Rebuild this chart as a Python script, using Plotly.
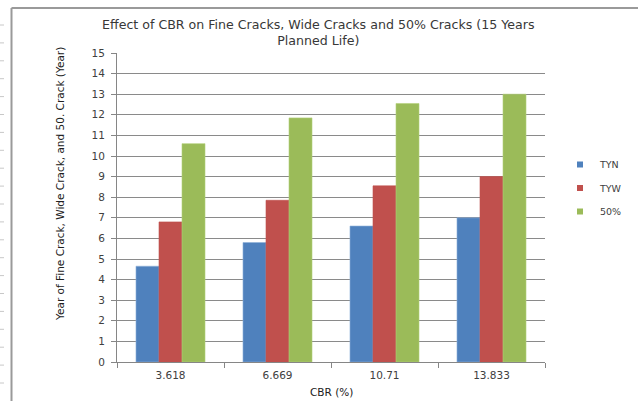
import plotly.graph_objects as go

categories = ["3.618", "6.669", "10.71", "13.833"]
tyn = [4.65, 5.8, 6.6, 7.0]
tyw = [6.8, 7.85, 8.55, 9.0]
p50 = [10.6, 11.85, 12.55, 13.0]
series_names = ["TYN", "TYW", "50%"]
colors = ["#4F81BD", "#C0504D", "#9BBB59"]
edge_colors = ["#8EB0DA", "#C0504D", "#B4D07A"]
title_text = "Effect of CBR on Fine Cracks, Wide Cracks and 50% Cracks (15 Years<br>Planned Life)"
ytitle = "Year of Fine Crack, Wide Crack, and 50. Crack (Year)"
xtitle = "CBR (%)"

FONT = "DejaVu Sans"

fig = go.Figure()
for name, vals, c, ec in zip(series_names, [tyn, tyw, p50], colors, edge_colors):
    fig.add_trace(go.Bar(x=categories, y=vals, name=name, showlegend=False,
                         marker=dict(color=c, line=dict(color=ec, width=0.6))))
    # legend entry with a small square key
    fig.add_trace(go.Scatter(x=[None], y=[None], mode="markers", name=name, legendgroup=name,
                             marker=dict(symbol="square", size=6, color=c)))

L, R, T, B = 117, 93, 53, 39
W, H = 638, 401
pw, ph = W - L - R, H - T - B

def px(x):
    return (x - L) / pw

def py(y):
    return (H - B - y) / ph

shapes = [
    dict(type="line", xref="paper", yref="paper", x0=px(11.5), x1=px(640), y0=py(8), y1=py(8),
         line=dict(color="#9a9a9a", width=2)),
    dict(type="line", xref="paper", yref="paper", x0=px(11.5), x1=px(11.5), y0=py(8), y1=py(405),
         line=dict(color="#9a9a9a", width=2)),
]
for i in range(21):
    yy = 25 + i * 17.9
    shapes.append(dict(type="line", xref="paper", yref="paper", x0=px(0), x1=px(4), y0=py(yy), y1=py(yy),
                       line=dict(color="#c8c8c8", width=1)))

fig.update_layout(
    width=W, height=H,
    margin=dict(l=L, r=R, t=T, b=B, autoexpand=False),
    paper_bgcolor="white", plot_bgcolor="white",
    font=dict(family=FONT, size=10, color="#404040"),
    barmode="group", bargap=0.355, bargroupgap=0,
    showlegend=True,
    legend=dict(x=px(560), y=py(150), xanchor="left", yanchor="top",
                font=dict(size=9.5, color="#404040"), tracegroupgap=4.5,
                itemwidth=30, bgcolor="rgba(0,0,0,0)"),
    shapes=shapes,
    annotations=[
        dict(text=title_text, xref="paper", yref="paper", x=px(318), y=py(32), showarrow=False,
             xanchor="center", yanchor="middle", font=dict(size=12.6, color="#383838", family=FONT)),
        dict(text=ytitle, xref="paper", yref="paper", x=px(60), y=py(184), showarrow=False,
             textangle=-90, xanchor="center", yanchor="middle",
             font=dict(size=10.5, color="#202020", family=FONT)),
        dict(text=xtitle, xref="paper", yref="paper", x=px(331), y=py(392), showarrow=False,
             xanchor="center", yanchor="middle", font=dict(size=10.5, color="#202020", family=FONT)),
    ],
)
fig.update_xaxes(showline=True, linecolor="#868686", linewidth=1, ticks="outside", tickson="boundaries",
                 ticklen=5, tickcolor="#868686", showgrid=False, ticklabelstandoff=3,
                 tickfont=dict(size=10.5, color="#404040"))
fig.update_yaxes(range=[0, 15], dtick=1, showline=True, linecolor="#868686", linewidth=1,
                 ticks="outside", ticklen=5, tickcolor="#868686", showgrid=True, gridcolor="#8a8a8a",
                 gridwidth=1, zeroline=False, ticklabelstandoff=4,
                 tickfont=dict(size=10.5, color="#404040"))

fig.write_html("out.html")
